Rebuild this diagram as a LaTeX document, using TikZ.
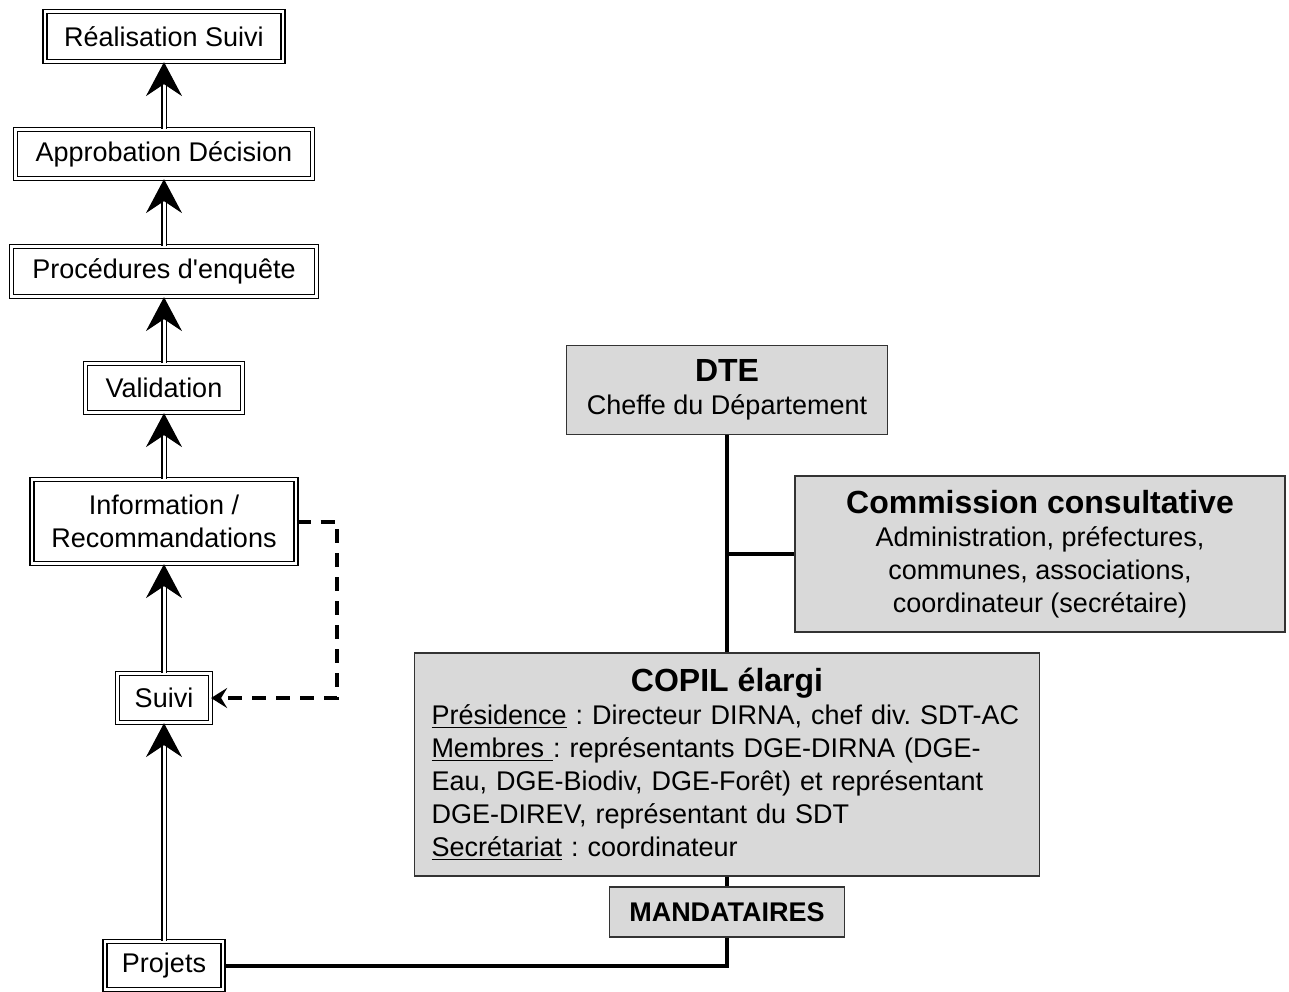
\documentclass[tikz,border=0pt]{standalone}
\usepackage{fontspec}
\setmainfont{Liberation Sans}
\usetikzlibrary{arrows.meta}
\frenchspacing

\begin{document}
\begin{tikzpicture}[x=0.5pt,y=-0.5pt,
    stage/.style={draw, double, double distance=1.4pt, line width=0.6pt, fill=white, inner sep=2pt, align=center, font=\fontsize{13.5}{16.5}\selectfont},
    grey/.style={draw=black!80, line width=0.8pt, fill=black!15, align=center, font=\fontsize{13.5}{16.5}\selectfont},
    flow/.style={double, double distance=1.5pt, line width=0.6pt, -{Stealth[length=17pt,width=18pt,inset=6pt]}},
    link/.style={line width=2pt},
    back/.style={line width=2pt, dash pattern=on 7pt off 5pt, -{Stealth[length=8pt,width=10pt,inset=3pt]}}]
  \useasboundingbox (0,0) rectangle (1289,991);

  \node[stage, minimum width=119pt, minimum height=25pt] (real) at (164,36.5) {Réalisation Suivi};
  \node[stage, minimum width=148.5pt, minimum height=24.5pt] (appr) at (164,154) {Approbation Décision};
  \node[stage, minimum width=152.5pt, minimum height=25pt] (proc) at (164,271.5) {Procédures d\textquotesingle enquête};
  \node[stage, minimum width=78.5pt, minimum height=24.5pt] (valid) at (164,388) {Validation};
  \node[stage, minimum width=132pt, minimum height=42pt] (info) at (164,521.5) {Information /\\Recommandations};
  \node[stage, minimum width=46.5pt, minimum height=24.5pt] (suivi) at (164,698) {Suivi};
  \node[stage, minimum width=59pt, minimum height=24pt] (proj) at (164,965.5) {Projets};

  \draw[flow] (proj) -- (suivi);
  \draw[flow] (suivi) -- (info);
  \draw[flow] (info) -- (valid);
  \draw[flow] (valid) -- (proc);
  \draw[flow] (proc) -- (appr);
  \draw[flow] (appr) -- (real);

  \coordinate (turn) at (337,521.5);
  \draw[back] (info.east) -- (turn) |- (suivi.east);

  \node[grey, minimum width=160.5pt, minimum height=44.5pt] (dte) at (727,390)
    {{\fontsize{16}{19}\selectfont\bfseries DTE}\\Cheffe du Département};
  \node[grey, minimum width=245pt, minimum height=78pt] (comm) at (1040,554)
    {{\fontsize{16}{19}\selectfont\bfseries Commission consultative}\\Administration, préfectures,\\communes, associations,\\coordinateur (secrétaire)};
  \node[grey, text width=295.5pt, inner xsep=8.5pt, minimum height=111.5pt, align=left] (copil) at (727,764.5)
    {\makebox[\linewidth]{\fontsize{16}{19}\selectfont\bfseries COPIL élargi}\\
     \underline{Présidence} : Directeur DIRNA, chef div. SDT-AC\\
     \underline{Membres }: représentants DGE-DIRNA (DGE-\\
     Eau, DGE-Biodiv, DGE-Forêt) et représentant\\
     DGE-DIREV, représentant du SDT\\
     \underline{Secrétariat} : coordinateur};
  \node[grey, minimum width=117.5pt, minimum height=25pt, font=\fontsize{13.5}{16.5}\selectfont\bfseries] (mand) at (727,912) {MANDATAIRES};

  \coordinate (junc) at (727,554);
  \draw[link] (dte) -- (copil);
  \draw[link] (junc) -- (comm);
  \draw[link] (copil) -- (mand);
  \draw[link] (mand) |- (proj);
\end{tikzpicture}
\end{document}
